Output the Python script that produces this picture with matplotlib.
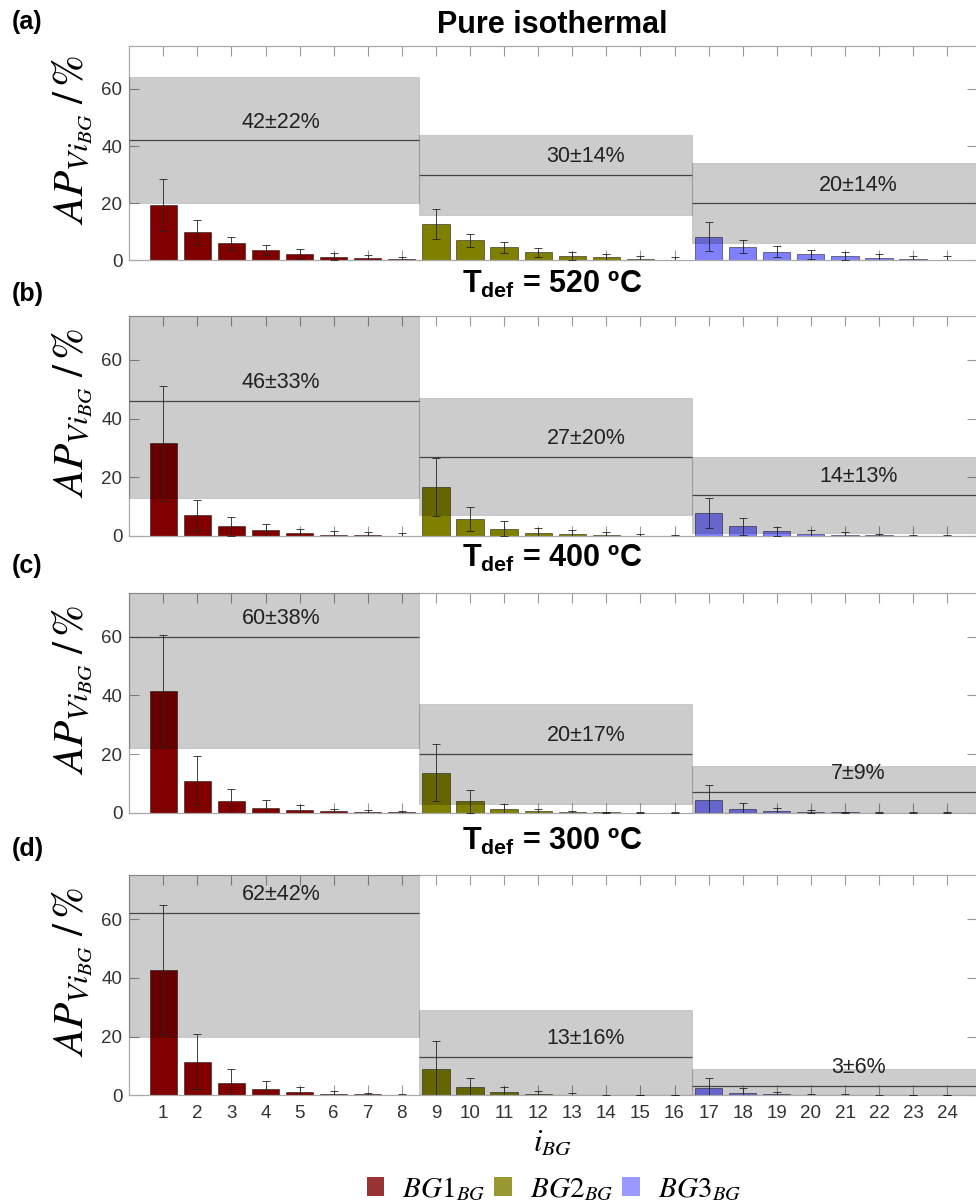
import matplotlib
matplotlib.use("Agg")
import matplotlib.pyplot as plt
from matplotlib.patches import Patch
import numpy as np

plt.rcParams['font.family'] = ['Liberation Sans', 'DejaVu Sans']
plt.rcParams['mathtext.fontset'] = 'custom'
plt.rcParams['mathtext.rm'] = 'Liberation Sans'
plt.rcParams['mathtext.it'] = 'Liberation Sans:italic'
plt.rcParams['mathtext.bf'] = 'Liberation Sans:bold'

# bar index i_BG (1..24), groups BG1 / BG2 / BG3 of 8 bars each
bar_index = np.arange(1, 25)
group_names = [r'$BG1_{BG}$', r'$BG2_{BG}$', r'$BG3_{BG}$']
group_colors = ['#800000', '#808000', '#8080ff']

panel_titles = ['Pure isothermal', r'$\mathbf{T}_{\mathbf{def}}$ = 520 ºC',
                r'$\mathbf{T}_{\mathbf{def}}$ = 400 ºC', r'$\mathbf{T}_{\mathbf{def}}$ = 300 ºC']
panel_letters = ['(a)', '(b)', '(c)', '(d)']

# mean value of each bar and its error
iso_vals = [19.2, 9.9, 5.9, 3.6, 2.3, 1.3, 0.7, 0.35,
            12.8, 7.0, 4.5, 2.8, 1.6, 1.0, 0.6, 0.2,
            8.3, 4.8, 3.0, 2.1, 1.4, 0.9, 0.6, 0.2]
iso_err = [9.1, 4.3, 2.4, 1.9, 1.7, 1.3, 1.0, 0.9,
           5.2, 2.3, 2.0, 1.6, 1.4, 1.1, 0.8, 1.0,
           5.2, 2.4, 1.9, 1.6, 1.4, 1.4, 1.0, 1.3]

t520_vals = [31.6, 7.0, 3.3, 1.9, 0.9, 0.45, 0.2, 0.1,
             16.7, 5.8, 2.5, 1.0, 0.6, 0.35, 0.1, 0.1,
             7.7, 3.3, 1.6, 0.8, 0.45, 0.2, 0.1, 0.05]
t520_err = [19.6, 5.2, 3.3, 2.2, 1.6, 1.35, 1.0, 0.8,
            9.8, 4.1, 2.5, 1.6, 1.6, 1.0, 0.5, 0.4,
            5.1, 2.8, 1.6, 1.2, 1.0, 0.6, 0.4, 0.3]

t400_vals = [41.5, 10.9, 3.9, 1.7, 0.9, 0.45, 0.2, 0.1,
             13.6, 3.9, 1.25, 0.45, 0.2, 0.1, 0.05, 0.05,
             4.4, 1.4, 0.55, 0.3, 0.1, 0.05, 0.05, 0.05]
t400_err = [19.2, 8.4, 4.3, 2.6, 1.6, 0.9, 0.7, 0.5,
            9.7, 3.9, 1.8, 0.8, 0.5, 0.3, 0.2, 0.2,
            4.9, 1.8, 1.0, 0.5, 0.3, 0.2, 0.2, 0.2]

t300_vals = [42.8, 11.5, 4.3, 2.0, 1.0, 0.55, 0.3, 0.1,
             9.0, 2.7, 1.0, 0.45, 0.2, 0.05, 0.05, 0.05,
             2.4, 0.8, 0.35, 0.1, 0.1, 0.05, 0.05, 0.05]
t300_err = [22.1, 9.4, 4.8, 3.0, 1.8, 1.0, 0.5, 0.3,
            9.5, 3.3, 1.8, 1.1, 0.5, 0.2, 0.1, 0.1,
            3.4, 1.6, 0.7, 0.3, 0.3, 0.2, 0.1, 0.1]

# group mean and standard deviation (shaded band)
iso_mean, iso_sd = [42, 30, 20], [22, 14, 14]
t520_mean, t520_sd = [46, 27, 14], [33, 20, 13]
t400_mean, t400_sd = [60, 20, 7], [38, 17, 9]
t300_mean, t300_sd = [62, 13, 3], [42, 16, 6]

panels = [
    (iso_vals, iso_err, iso_mean, iso_sd),
    (t520_vals, t520_err, t520_mean, t520_sd),
    (t400_vals, t400_err, t400_mean, t400_sd),
    (t300_vals, t300_err, t300_mean, t300_sd),
]

W, H = 976, 1203
fig = plt.figure(figsize=(W / 100, H / 100), dpi=100)

# layout in pixels
ax_left, ax_right = 129.2, 976.5
ax_rows = [(46, 260.3), (315.7, 536), (592.7, 812.7), (875, 1095.3)]
title_base = [33, 292.7, 566.7, 850]
letter_top = [10, 282, 554, 837]
group_edges = [0, 8.5, 16.5, 26]
label_x = [4.45, 13.4, 21.4]

bar_colors = np.repeat(group_colors, 8)

for k, (vals, err, means, sds) in enumerate(panels):
    top, bottom = ax_rows[k]
    ax = fig.add_axes([ax_left / W, 1 - bottom / H,
                       (ax_right - ax_left) / W, (bottom - top) / H])

    ax.bar(bar_index, vals, width=0.8, color=bar_colors,
           edgecolor=(0, 0, 0, 0.55), linewidth=0.6, zorder=2)
    ax.errorbar(bar_index, vals, yerr=err, fmt='none', ecolor='#222222',
                elinewidth=0.6, capsize=3, capthick=0.6, zorder=4)

    # shaded mean +/- sd band per group, drawn over the bars
    for g in range(3):
        x0, x1 = group_edges[g], group_edges[g + 1]
        m, s = means[g], sds[g]
        ax.bar(x0, 2 * s, bottom=m - s, width=x1 - x0, align='edge',
               facecolor=(0, 0, 0, 0.2), edgecolor=(0, 0, 0, 0.12),
               linewidth=0.8, zorder=3)
        ax.hlines(m, x0, x1, colors='#444444', linewidth=0.9, zorder=3)
        ax.text(label_x[g], m + 6.3, f'{m}±{s}%', ha='center', va='center',
                fontsize=15.5, color='#222222', zorder=5)

    ax.set_xlim(0, 24.86)
    ax.set_ylim(0, 75)
    ax.set_xticks(bar_index)
    ax.set_yticks([0, 20, 40, 60])
    ax.tick_params(direction='in', length=7, width=0.8, color='#999999',
                   top=True, right=True, labelsize=13.5, labelcolor='#333333', pad=5)
    ax.tick_params(axis='x', pad=7)
    if k < 3:
        ax.tick_params(axis='x', labelbottom=False)
    for sp in ax.spines.values():
        sp.set_color('#aaaaaa')
        sp.set_linewidth(0.9)

    ax.set_ylabel(r'$AP_{Vi_{BG}}\;/\,\%$', fontsize=31, math_fontfamily='stix')
    ax.yaxis.set_label_coords(-0.040, 0.56)

    fig.text(552.5 / W, 1 - title_base[k] / H, panel_titles[k], ha='center',
             va='baseline', fontsize=22, fontweight='bold')
    fig.text(12 / W, 1 - letter_top[k] / H, panel_letters[k], ha='left',
             va='top', fontsize=18, fontweight='bold')

fig.text(552 / W, 1 - 1143 / H, r'$i_{BG}$', ha='center', va='center',
         fontsize=22, math_fontfamily='stix')

handles = [Patch(facecolor=c, alpha=0.8, edgecolor='none') for c in group_colors]
leg = fig.legend(handles, group_names, loc='center', ncol=3, frameon=False,
                 bbox_to_anchor=(554 / W, 1 - 1189 / H), fontsize=21,
                 handlelength=0.6, handleheight=0.6, handletextpad=0.63,
                 columnspacing=0.3)
for t in leg.get_texts():
    t.set_math_fontfamily('stix')

fig.savefig('out.png', dpi=100)
